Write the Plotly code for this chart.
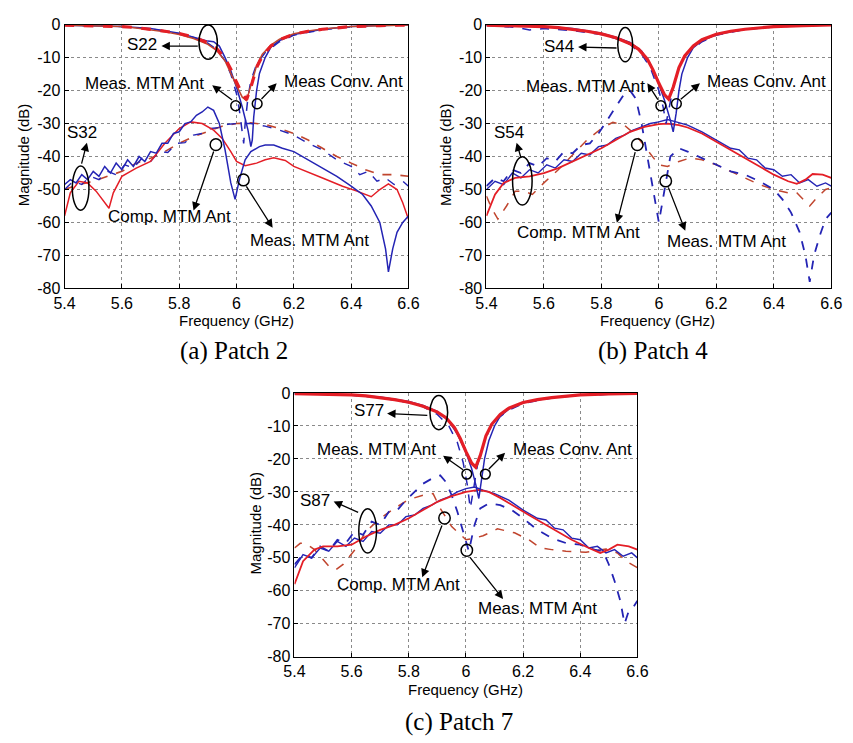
import plotly.graph_objects as go

# ---------------- tick labels ----------------
x_tick_vals = [5.4, 5.6, 5.8, 6.0, 6.2, 6.4, 6.6]
x_tick_text = ["5.4", "5.6", "5.8", "6", "6.2", "6.4", "6.6"]
y_tick_vals = [0, -10, -20, -30, -40, -50, -60, -70, -80]
y_tick_text = ["0", "-10", "-20", "-30", "-40", "-50", "-60", "-70", "-80"]

# ---------------- (a) Patch 2 ----------------
a_rl_f = [5.4, 5.5, 5.6, 5.65, 5.7, 5.75, 5.8, 5.85, 5.9, 5.93, 5.96, 5.98, 6.0, 6.02, 6.035, 6.05, 6.07, 6.09, 6.12, 6.15, 6.2, 6.25, 6.3, 6.4, 6.5, 6.6]
a_rl_comp_conv = [-0.2, -0.3, -0.6, -0.9, -1.4, -2.0, -2.7, -3.8, -5.5, -7.2, -10.2, -13.5, -17.5, -21, -22.8, -19, -13, -9.5, -6.5, -4.6, -2.9, -2.0, -1.4, -0.6, -0.3, -0.1]
a_rl_comp_mtm = [-0.2, -0.3, -0.6, -1.0, -1.5, -2.2, -3.0, -4.2, -6.0, -7.8, -11.0, -14.5, -18.5, -22, -23.0, -18.5, -12.5, -9.0, -6.2, -4.4, -2.8, -1.9, -1.3, -0.6, -0.3, -0.1]
a_rl_meas_mtm_f = [5.4, 5.5, 5.6, 5.7, 5.8, 5.85, 5.88, 5.9, 5.92, 5.94, 5.96, 5.98, 6.0, 6.02, 6.04, 6.05, 6.055, 6.06, 6.07, 6.08, 6.1, 6.12, 6.15, 6.2, 6.3, 6.4, 6.5, 6.6]
a_rl_meas_mtm = [-0.2, -0.3, -0.6, -1.2, -2.6, -3.8, -4.6, -5.0, -5.2, -6.5, -10, -14, -19, -25, -32, -37, -35, -28, -20, -14.8, -10, -6.8, -4.8, -3.0, -1.4, -0.6, -0.3, -0.1]
a_rl_meas_conv_f = [5.4, 5.5, 5.6, 5.7, 5.8, 5.85, 5.9, 5.93, 5.96, 5.98, 6.0, 6.01, 6.02, 6.025, 6.03, 6.04, 6.05, 6.07, 6.1, 6.15, 6.2, 6.3, 6.4, 6.5, 6.6]
a_rl_meas_conv = [-0.2, -0.3, -0.6, -1.3, -2.8, -3.9, -5.6, -7.5, -11, -15, -21, -26, -33, -36, -30, -22, -17, -12, -8.5, -5.2, -3.2, -1.5, -0.7, -0.3, -0.1]

a_cp_meas_mtm_f = [5.4, 5.42, 5.44, 5.46, 5.48, 5.5, 5.52, 5.54, 5.56, 5.58, 5.6, 5.62, 5.64, 5.66, 5.68, 5.7, 5.72, 5.74, 5.76, 5.78, 5.8, 5.82, 5.84, 5.86, 5.88, 5.9, 5.92, 5.94, 5.96, 5.98, 5.995, 6.01, 6.03, 6.05, 6.08, 6.1, 6.13, 6.16, 6.2, 6.25, 6.3, 6.35, 6.4, 6.44, 6.47, 6.5, 6.52, 6.53, 6.545, 6.56, 6.58, 6.6]
a_cp_meas_mtm = [-48.5, -47, -48, -45.5, -47, -44.5, -46, -43, -45, -42, -44, -41, -43, -40, -41.5, -38.5, -39, -36, -36, -33, -32.5, -30, -29.5, -27.5, -26.5, -25, -26, -30, -38, -48, -53, -47, -41, -38.5, -37, -36.5, -36.5, -37.5, -38.5, -41, -43.5, -46, -49, -51.5, -55, -60, -68, -75, -68, -63, -60, -58]
a_cp_comp_mtm_f = [5.4, 5.42, 5.45, 5.48, 5.51, 5.54, 5.555, 5.57, 5.6, 5.65, 5.7, 5.75, 5.8, 5.84, 5.88, 5.92, 5.95, 5.98, 6.0, 6.03, 6.07, 6.1, 6.13, 6.17, 6.2, 6.3, 6.37, 6.42, 6.47, 6.5, 6.53, 6.56, 6.58, 6.6]
a_cp_comp_mtm = [-58, -51, -47.5, -48, -50.5, -54, -55.7, -51, -46, -43.5, -41.5, -36, -31.5, -29.5, -30, -32, -34.5, -38.5, -41.5, -42.8, -42, -41, -40.4, -41.2, -43, -46.5, -49, -50.5, -52.2, -50, -48.3, -50, -54, -59]
a_cp_comp_conv_f = [5.4, 5.45, 5.5, 5.55, 5.6, 5.65, 5.7, 5.75, 5.8, 5.85, 5.9, 5.95, 6.0, 6.05, 6.1, 6.15, 6.2, 6.25, 6.3, 6.35, 6.4, 6.45, 6.5, 6.55, 6.6]
a_cp_comp_conv = [-50, -48.5, -47.5, -46, -44.5, -42, -40.5, -38.5, -36, -34, -32.3, -30.8, -30, -29.8, -30.3, -31.5, -33, -35, -37.5, -40, -42, -44, -45.5, -45.5, -46]
a_cp_meas_conv_f = [5.4, 5.43, 5.46, 5.49, 5.52, 5.55, 5.58, 5.61, 5.64, 5.67, 5.7, 5.73, 5.76, 5.79, 5.82, 5.85, 5.88, 5.91, 5.94, 5.97, 6.0, 6.05, 6.1, 6.15, 6.2, 6.25, 6.3, 6.35, 6.4, 6.43, 6.46, 6.49, 6.52, 6.55, 6.58, 6.6]
a_cp_meas_conv = [-50, -47.5, -48.5, -46, -47, -44.5, -45.5, -42.5, -43.5, -40.5, -41.5, -38.5, -38.8, -36, -35.8, -33.5, -33, -31.5, -31.2, -30.2, -30, -30, -30.8, -32, -33.5, -36, -38, -41, -43, -45.5, -44.5, -47.5, -46.5, -48.5, -47.5, -49]

# ---------------- (b) Patch 4 ----------------
b_rl_f = [5.4, 5.5, 5.6, 5.65, 5.7, 5.75, 5.8, 5.85, 5.9, 5.93, 5.96, 5.98, 6.0, 6.02, 6.034, 6.05, 6.07, 6.09, 6.12, 6.15, 6.2, 6.25, 6.3, 6.4, 6.5, 6.6]
b_rl_comp = [-0.2, -0.3, -0.6, -0.9, -1.4, -2.0, -2.8, -4.0, -5.8, -7.5, -10.5, -13.8, -17.8, -21.3, -22.6, -19, -13, -9.5, -6.5, -4.6, -2.9, -2.0, -1.4, -0.6, -0.3, -0.1]
b_rl_meas_conv_f = [5.4, 5.5, 5.6, 5.7, 5.8, 5.85, 5.9, 5.94, 5.97, 6.0, 6.02, 6.04, 6.05, 6.06, 6.07, 6.08, 6.1, 6.12, 6.15, 6.2, 6.3, 6.4, 6.5, 6.6]
b_rl_meas_conv = [-0.2, -0.3, -0.6, -1.2, -2.6, -3.8, -5.4, -8.0, -12, -18, -23, -29, -32.5, -27, -20, -15, -10, -7, -4.9, -3.0, -1.4, -0.6, -0.3, -0.1]
b_rl_meas_mtm_f = [5.4, 5.5, 5.55, 5.6, 5.7, 5.8, 5.85, 5.9, 5.94, 5.97, 6.0, 6.015, 6.025, 6.035, 6.05, 6.07, 6.1, 6.15, 6.2, 6.3, 6.4, 6.5, 6.6]
b_rl_meas_mtm = [-0.3, -0.8, -1.6, -1.2, -1.8, -3.0, -4.2, -6.0, -9.0, -13, -20, -25, -30, -26, -19, -13, -8.5, -5.2, -3.2, -1.5, -0.7, -0.3, -0.1]

b_cp_meas_mtm_f = [5.4, 5.43, 5.46, 5.49, 5.52, 5.55, 5.58, 5.61, 5.64, 5.67, 5.7, 5.73, 5.76, 5.79, 5.82, 5.85, 5.88, 5.9, 5.92, 5.94, 5.96, 5.98, 6.0, 6.02, 6.04, 6.07, 6.1, 6.15, 6.2, 6.25, 6.3, 6.35, 6.4, 6.43, 6.46, 6.49, 6.51, 6.525, 6.54, 6.56, 6.58, 6.6]
b_cp_meas_mtm = [-49, -46.5, -47.5, -44, -45, -42, -43, -40.5, -41.5, -38.5, -39, -36.5, -36, -33, -29, -25, -21, -20, -22.5, -30, -40, -51, -60, -50, -40, -37.5, -38.5, -40.5, -42.5, -44.5, -45.5, -47.5, -50, -53, -57, -63, -70, -78, -70, -64, -59, -57]
b_cp_comp_mtm_f = [5.4, 5.42, 5.44, 5.47, 5.5, 5.53, 5.56, 5.6, 5.65, 5.7, 5.75, 5.8, 5.84, 5.88, 5.92, 5.96, 6.0, 6.03, 6.07, 6.11, 6.15, 6.2, 6.25, 6.3, 6.35, 6.4, 6.45, 6.48, 6.51, 6.525, 6.55, 6.58, 6.6]
b_cp_comp_mtm = [-52, -56, -59, -55, -50.5, -50.5, -51.5, -48, -44, -39.5, -35, -31.5, -29.6, -30.5, -33.5, -38, -42.5, -43, -41.5, -40.4, -41, -42.5, -44.5, -46.5, -48.5, -50, -51, -51, -53.5, -55, -52.5, -50, -49.5]
b_cp_comp_conv_f = [5.4, 5.43, 5.46, 5.5, 5.55, 5.6, 5.65, 5.7, 5.75, 5.8, 5.85, 5.9, 5.95, 6.0, 6.03, 6.07, 6.1, 6.15, 6.2, 6.25, 6.3, 6.35, 6.4, 6.45, 6.48, 6.51, 6.535, 6.57, 6.6]
b_cp_comp_conv = [-58, -51.5, -48, -46.5, -46, -45, -43.5, -41.5, -39.5, -37.5, -35, -32.5, -31, -30.2, -30, -30.5, -31.2, -33, -35.5, -38, -40.5, -43, -45.5, -47.5, -48.3, -47, -45.3, -45.5, -46.5]
b_cp_meas_conv_f = [5.4, 5.43, 5.46, 5.49, 5.52, 5.55, 5.58, 5.61, 5.64, 5.67, 5.7, 5.73, 5.76, 5.79, 5.82, 5.85, 5.88, 5.91, 5.94, 5.97, 6.0, 6.03, 6.06, 6.1, 6.15, 6.2, 6.25, 6.28, 6.31, 6.34, 6.37, 6.4, 6.43, 6.46, 6.49, 6.52, 6.55, 6.58, 6.6]
b_cp_meas_conv = [-50, -47.5, -48.5, -45, -46.5, -44, -45, -42.5, -43.5, -41, -41.5, -39, -39.5, -37, -36.5, -34.5, -33.5, -32, -31, -30, -29.5, -28.8, -29.5, -30.5, -32.5, -35, -37.5, -38, -40.5, -41, -43.5, -44, -46, -45.5, -48, -47, -49, -48, -49]

# ---------------- (c) Patch 7 ----------------
c_rl_f = [5.4, 5.5, 5.6, 5.65, 5.7, 5.75, 5.8, 5.85, 5.9, 5.93, 5.96, 5.98, 6.0, 6.02, 6.034, 6.05, 6.07, 6.09, 6.12, 6.15, 6.2, 6.25, 6.3, 6.4, 6.5, 6.6]
c_rl_comp = [-0.2, -0.3, -0.6, -0.9, -1.4, -2.0, -2.8, -4.0, -5.8, -7.5, -10.5, -13.8, -17.8, -21.3, -22.5, -19, -13, -9.5, -6.5, -4.6, -2.9, -2.0, -1.4, -0.6, -0.3, -0.1]
c_rl_meas_conv_f = [5.4, 5.5, 5.6, 5.7, 5.8, 5.85, 5.9, 5.94, 5.97, 6.0, 6.02, 6.035, 6.045, 6.055, 6.065, 6.08, 6.1, 6.12, 6.15, 6.2, 6.3, 6.4, 6.5, 6.6]
c_rl_meas_conv = [-0.2, -0.3, -0.6, -1.2, -2.6, -3.8, -5.6, -8.5, -12.5, -18, -23, -28, -32, -26, -20, -14.5, -10, -7, -4.9, -3.0, -1.4, -0.6, -0.3, -0.1]
c_rl_meas_mtm_f = [5.4, 5.5, 5.6, 5.7, 5.8, 5.85, 5.9, 5.94, 5.97, 5.99, 6.005, 6.015, 6.025, 6.04, 6.06, 6.08, 6.1, 6.15, 6.2, 6.3, 6.4, 6.5, 6.6]
c_rl_meas_mtm = [-0.2, -0.3, -0.7, -1.4, -3.0, -4.2, -6.5, -10, -15, -21, -28, -35, -30, -22, -16, -11.5, -8.5, -5.2, -3.2, -1.5, -0.7, -0.3, -0.1]

c_cp_meas_mtm_f = [5.4, 5.43, 5.46, 5.49, 5.52, 5.55, 5.58, 5.61, 5.64, 5.67, 5.7, 5.73, 5.76, 5.79, 5.82, 5.85, 5.88, 5.91, 5.93, 5.95, 5.97, 5.99, 6.01, 6.03, 6.05, 6.08, 6.12, 6.16, 6.2, 6.25, 6.3, 6.35, 6.4, 6.45, 6.48, 6.5, 6.52, 6.54, 6.555, 6.57, 6.585, 6.6]
c_cp_meas_mtm = [-52, -49, -50, -46.5, -48, -44.5, -45.5, -42, -43, -39, -40, -36, -35.5, -32.5, -30, -27.5, -26, -25, -27, -31, -36, -42, -48, -40, -35, -33.5, -34, -35.5, -38, -41.5, -44, -45.5, -46, -47.5, -48, -52, -57, -63, -70, -66, -65, -63]
c_cp_comp_mtm_f = [5.4, 5.42, 5.44, 5.47, 5.5, 5.52, 5.545, 5.57, 5.61, 5.65, 5.7, 5.75, 5.8, 5.85, 5.885, 5.91, 5.95, 5.98, 6.0, 6.03, 6.06, 6.11, 6.17, 6.22, 6.26, 6.3, 6.35, 6.42, 6.49, 6.53, 6.56, 6.6]
c_cp_comp_mtm = [-47, -45.6, -45.6, -47.5, -50.5, -52.5, -53.6, -52, -47.7, -42, -38, -35, -32.3, -31, -30.5, -35, -40.5, -43, -44.5, -44, -43.3, -41.2, -42.4, -44.5, -47, -47.5, -48, -48.3, -47.3, -48.5, -51, -53]
c_cp_comp_conv_f = [5.4, 5.43, 5.47, 5.5, 5.55, 5.6, 5.65, 5.7, 5.75, 5.8, 5.85, 5.9, 5.95, 6.0, 6.045, 6.08, 6.12, 6.17, 6.22, 6.27, 6.32, 6.37, 6.43, 6.47, 6.5, 6.53, 6.57, 6.6]
c_cp_comp_conv = [-58, -51, -47.5, -46.5, -46.5, -46, -43.5, -41.5, -40, -38, -35.5, -33, -31.3, -30, -29.4, -30, -31.8, -34.5, -37, -39.5, -42, -44.5, -47, -48.5, -47.5, -46, -46.5, -47.5]
c_cp_meas_conv_f = [5.4, 5.43, 5.46, 5.49, 5.52, 5.55, 5.58, 5.61, 5.64, 5.67, 5.7, 5.73, 5.76, 5.79, 5.82, 5.85, 5.88, 5.91, 5.94, 5.97, 6.0, 6.03, 6.06, 6.1, 6.15, 6.2, 6.25, 6.28, 6.31, 6.34, 6.37, 6.4, 6.43, 6.46, 6.49, 6.52, 6.55, 6.58, 6.6]
c_cp_meas_conv = [-53, -49, -50, -47, -48, -45, -46.5, -44, -45, -42, -42.5, -40, -40, -37.5, -37, -35, -34, -32.5, -31.5, -30, -29, -28.5, -29.5, -30.5, -32.5, -35.5, -38, -38.5, -41, -41.5, -44, -44.5, -47, -46.5, -48.5, -47.5, -49.5, -48.5, -50]

# ---------------- styles ----------------
BLUE = "#2424b4"
RED = "#e41e26"
BROWN = "#c0452e"
FONT = "Liberation Sans"

fig = go.Figure()

def line(f, v, ax, color, width=1.5, dash="solid"):
    fig.add_trace(go.Scatter(x=f, y=v, mode="lines", xaxis=ax[0], yaxis=ax[1],
                             line=dict(color=color, width=width, dash=dash),
                             showlegend=False, hoverinfo="skip"))

A = ("x", "y"); B = ("x2", "y2"); C = ("x3", "y3")

# (a)
line(a_cp_comp_conv_f, a_cp_comp_conv, A, BROWN, 1.6, "dash")
line(a_cp_meas_conv_f, a_cp_meas_conv, A, BLUE, 1.4, "dash")
line(a_cp_comp_mtm_f, a_cp_comp_mtm, A, RED, 1.5)
line(a_cp_meas_mtm_f, a_cp_meas_mtm, A, BLUE, 1.5)
line(a_rl_meas_conv_f, a_rl_meas_conv, A, BLUE, 1.5, "dash")
line(a_rl_meas_mtm_f, a_rl_meas_mtm, A, BLUE, 1.5)
line(a_rl_f, a_rl_comp_mtm, A, BROWN, 1.5)
line(a_rl_f, a_rl_comp_conv, A, RED, 3.2, "dash")

# (b)
line(b_cp_comp_mtm_f, b_cp_comp_mtm, B, BROWN, 1.5, "dash")
line(b_cp_meas_mtm_f, b_cp_meas_mtm, B, BLUE, 1.8, "dash")
line(b_cp_meas_conv_f, b_cp_meas_conv, B, BLUE, 1.4)
line(b_cp_comp_conv_f, b_cp_comp_conv, B, RED, 1.8)
line(b_rl_meas_mtm_f, b_rl_meas_mtm, B, BLUE, 1.5, "dash")
line(b_rl_meas_conv_f, b_rl_meas_conv, B, BLUE, 1.5)
line(b_rl_f, b_rl_comp, B, RED, 3.2)

# (c)
line(c_cp_comp_mtm_f, c_cp_comp_mtm, C, BROWN, 1.5, "dash")
line(c_cp_meas_mtm_f, c_cp_meas_mtm, C, BLUE, 1.8, "dash")
line(c_cp_meas_conv_f, c_cp_meas_conv, C, BLUE, 1.4)
line(c_cp_comp_conv_f, c_cp_comp_conv, C, RED, 1.8)
line(c_rl_meas_mtm_f, c_rl_meas_mtm, C, BLUE, 1.5, "dash")
line(c_rl_meas_conv_f, c_rl_meas_conv, C, BLUE, 1.5)
line(c_rl_f, c_rl_comp, C, RED, 3.2)

# ---------------- axes ----------------
W, H = 853, 743
def px_x(p): return p / W
def px_y(p): return 1 - p / H

axcommon = dict(range=[5.4, 6.6], tickvals=x_tick_vals, ticktext=x_tick_text,
                showline=True, mirror=True, linecolor="black", linewidth=1,
                ticks="inside", ticklen=4, tickcolor="black",
                showgrid=True, gridcolor="#8a8a8a", griddash="dot", gridwidth=1,
                zeroline=False, tickfont=dict(family=FONT, size=16, color="black"))
aycommon = dict(range=[-80, 0], tickvals=y_tick_vals, ticktext=y_tick_text,
                showline=True, mirror=True, linecolor="black", linewidth=1,
                ticks="inside", ticklen=4, tickcolor="black",
                showgrid=True, gridcolor="#8a8a8a", griddash="dot", gridwidth=1,
                zeroline=False, tickfont=dict(family=FONT, size=16, color="black"))

fig.update_layout(
    width=W, height=H, margin=dict(l=0, r=0, t=0, b=0),
    paper_bgcolor="white", plot_bgcolor="white", showlegend=False,
    xaxis=dict(axcommon, domain=[px_x(55), px_x(408)], anchor="y"),
    yaxis=dict(aycommon, domain=[px_y(287), px_y(17)], anchor="x"),
    xaxis2=dict(axcommon, domain=[px_x(488), px_x(842)], anchor="y2"),
    yaxis2=dict(aycommon, domain=[px_y(287), px_y(17)], anchor="x2"),
    xaxis3=dict(axcommon, domain=[px_x(291), px_x(643)], anchor="y3"),
    yaxis3=dict(aycommon, domain=[px_y(664), px_y(394)], anchor="x3"),
)

annotations = []
shapes = []
ANN = 17

def text(x, y, s, xr, yr, size=ANN):
    annotations.append(dict(x=x, y=y, xref=xr, yref=yr, text=s, showarrow=False,
                            font=dict(family=FONT, size=size, color="black"),
                            xanchor="center", yanchor="middle"))

def arrow(hx, hy, tx, ty, xr, yr):
    annotations.append(dict(x=hx, y=hy, ax=tx, ay=ty, xref=xr, yref=yr, axref=xr, ayref=yr,
                            text="", showarrow=True, arrowhead=2, arrowsize=1.3,
                            arrowwidth=1.3, arrowcolor="black", standoff=0, startstandoff=0))

def ellipse(cx, cy, hw, hh, xr, yr):
    shapes.append(dict(type="circle", xref=xr, yref=yr, x0=cx - hw, x1=cx + hw,
                       y0=cy - hh, y1=cy + hh, line=dict(color="black", width=1.5)))

# (a) annotations
ellipse(5.901, -5.33, 0.032, 5.2, "x", "y")
text(5.669, -6.1, "S22", "x", "y")
arrow(5.738, -6.5, 5.870, -6.5, "x", "y")
text(5.680, -17.8, "Meas. MTM Ant", "x", "y")
arrow(5.915, -18.4, 5.990, -23.2, "x", "y")
ellipse(5.997, -24.6, 0.017, 1.5, "x", "y")
ellipse(6.072, -24.0, 0.017, 1.5, "x", "y")
text(6.372, -17.2, "Meas Conv. Ant", "x", "y")
arrow(6.140, -17.8, 6.082, -23.0, "x", "y")
text(5.461, -32.6, "S32", "x", "y")
arrow(5.478, -35.8, 5.458, -42.6, "x", "y")
ellipse(5.456, -49.6, 0.029, 6.7, "x", "y")
text(5.765, -58.1, "Comp. MTM Ant", "x", "y")
arrow(5.85, -56.4, 5.922, -38.0, "x", "y")
ellipse(5.928, -36.4, 0.02, 1.8, "x", "y")
text(6.256, -65.5, "Meas. MTM Ant", "x", "y")
arrow(6.126, -61.6, 6.031, -48.6, "x", "y")
ellipse(6.024, -47.1, 0.02, 1.8, "x", "y")

# (b) annotations
ellipse(5.883, -6.07, 0.026, 5.2, "x2", "y2")
text(5.651, -6.5, "S44", "x2", "y2")
arrow(5.719, -6.8, 5.858, -7.1, "x2", "y2")
text(5.746, -18.7, "Meas. MTM Ant", "x2", "y2")
arrow(5.960, -17.8, 6.0, -23.2, "x2", "y2")
ellipse(6.007, -24.6, 0.017, 1.5, "x2", "y2")
ellipse(6.061, -24.0, 0.017, 1.5, "x2", "y2")
text(6.373, -17.2, "Meas Conv. Ant", "x2", "y2")
arrow(6.143, -17.8, 6.071, -23.0, "x2", "y2")
text(5.478, -32.6, "S54", "x2", "y2")
arrow(5.505, -35.8, 5.522, -40.9, "x2", "y2")
ellipse(5.525, -47.4, 0.034, 7.3, "x2", "y2")
text(5.722, -63.1, "Comp. MTM Ant", "x2", "y2")
arrow(5.854, -60.1, 5.919, -38.2, "x2", "y2")
ellipse(5.925, -36.4, 0.02, 1.8, "x2", "y2")
text(6.234, -65.8, "Meas. MTM Ant", "x2", "y2")
arrow(6.092, -62.5, 6.031, -48.9, "x2", "y2")
ellipse(6.024, -47.4, 0.02, 1.8, "x2", "y2")

# (c) annotations
ellipse(5.905, -5.93, 0.031, 5.2, "x3", "y3")
text(5.659, -5.33, "S77", "x3", "y3")
arrow(5.724, -6.2, 5.87, -6.8, "x3", "y3")
text(5.686, -17.2, "Meas. MTM Ant", "x3", "y3")
arrow(5.920, -19.0, 5.995, -23.6, "x3", "y3")
ellipse(6.003, -24.6, 0.017, 1.5, "x3", "y3")
ellipse(6.068, -24.6, 0.017, 1.5, "x3", "y3")
text(6.372, -17.2, "Meas Conv. Ant", "x3", "y3")
arrow(6.137, -18.1, 6.075, -23.5, "x3", "y3")
text(5.472, -32.6, "S87", "x3", "y3")
arrow(5.537, -32.9, 5.628, -36.4, "x3", "y3")
ellipse(5.656, -41.8, 0.031, 6.7, "x3", "y3")
text(5.765, -58.1, "Comp. MTM Ant", "x3", "y3")
arrow(5.847, -55.9, 5.918, -39.7, "x3", "y3")
ellipse(5.925, -37.9, 0.02, 1.8, "x3", "y3")
text(6.252, -65.5, "Meas. MTM Ant", "x3", "y3")
arrow(6.13, -62.5, 6.01, -49.4, "x3", "y3")
ellipse(6.003, -47.7, 0.02, 1.8, "x3", "y3")

# axis titles and captions (paper coordinates from pixels)
def ptext(xp, yp, s, size, family, angle=0):
    annotations.append(dict(x=px_x(xp), y=px_y(yp), xref="paper", yref="paper", text=s,
                            showarrow=False, textangle=angle,
                            font=dict(family=family, size=size, color="black"),
                            xanchor="center", yanchor="middle"))

ptext(231, 320, "Frequency (GHz)", 15, FONT)
ptext(664, 320, "Frequency (GHz)", 15, FONT)
ptext(467, 697, "Frequency (GHz)", 15, FONT)
ptext(13, 150, "Magnitude (dB)", 15, FONT, -90)
ptext(446, 150, "Magnitude (dB)", 15, FONT, -90)
ptext(251, 527, "Magnitude (dB)", 15, FONT, -90)
ptext(229, 351, "(a) Patch 2", 25, "Liberation Serif")
ptext(659, 351, "(b) Patch 4", 25, "Liberation Serif")
ptext(460, 731, "(c) Patch 7", 25, "Liberation Serif")

fig.update_layout(annotations=annotations, shapes=shapes)
fig.write_html("out.html")
